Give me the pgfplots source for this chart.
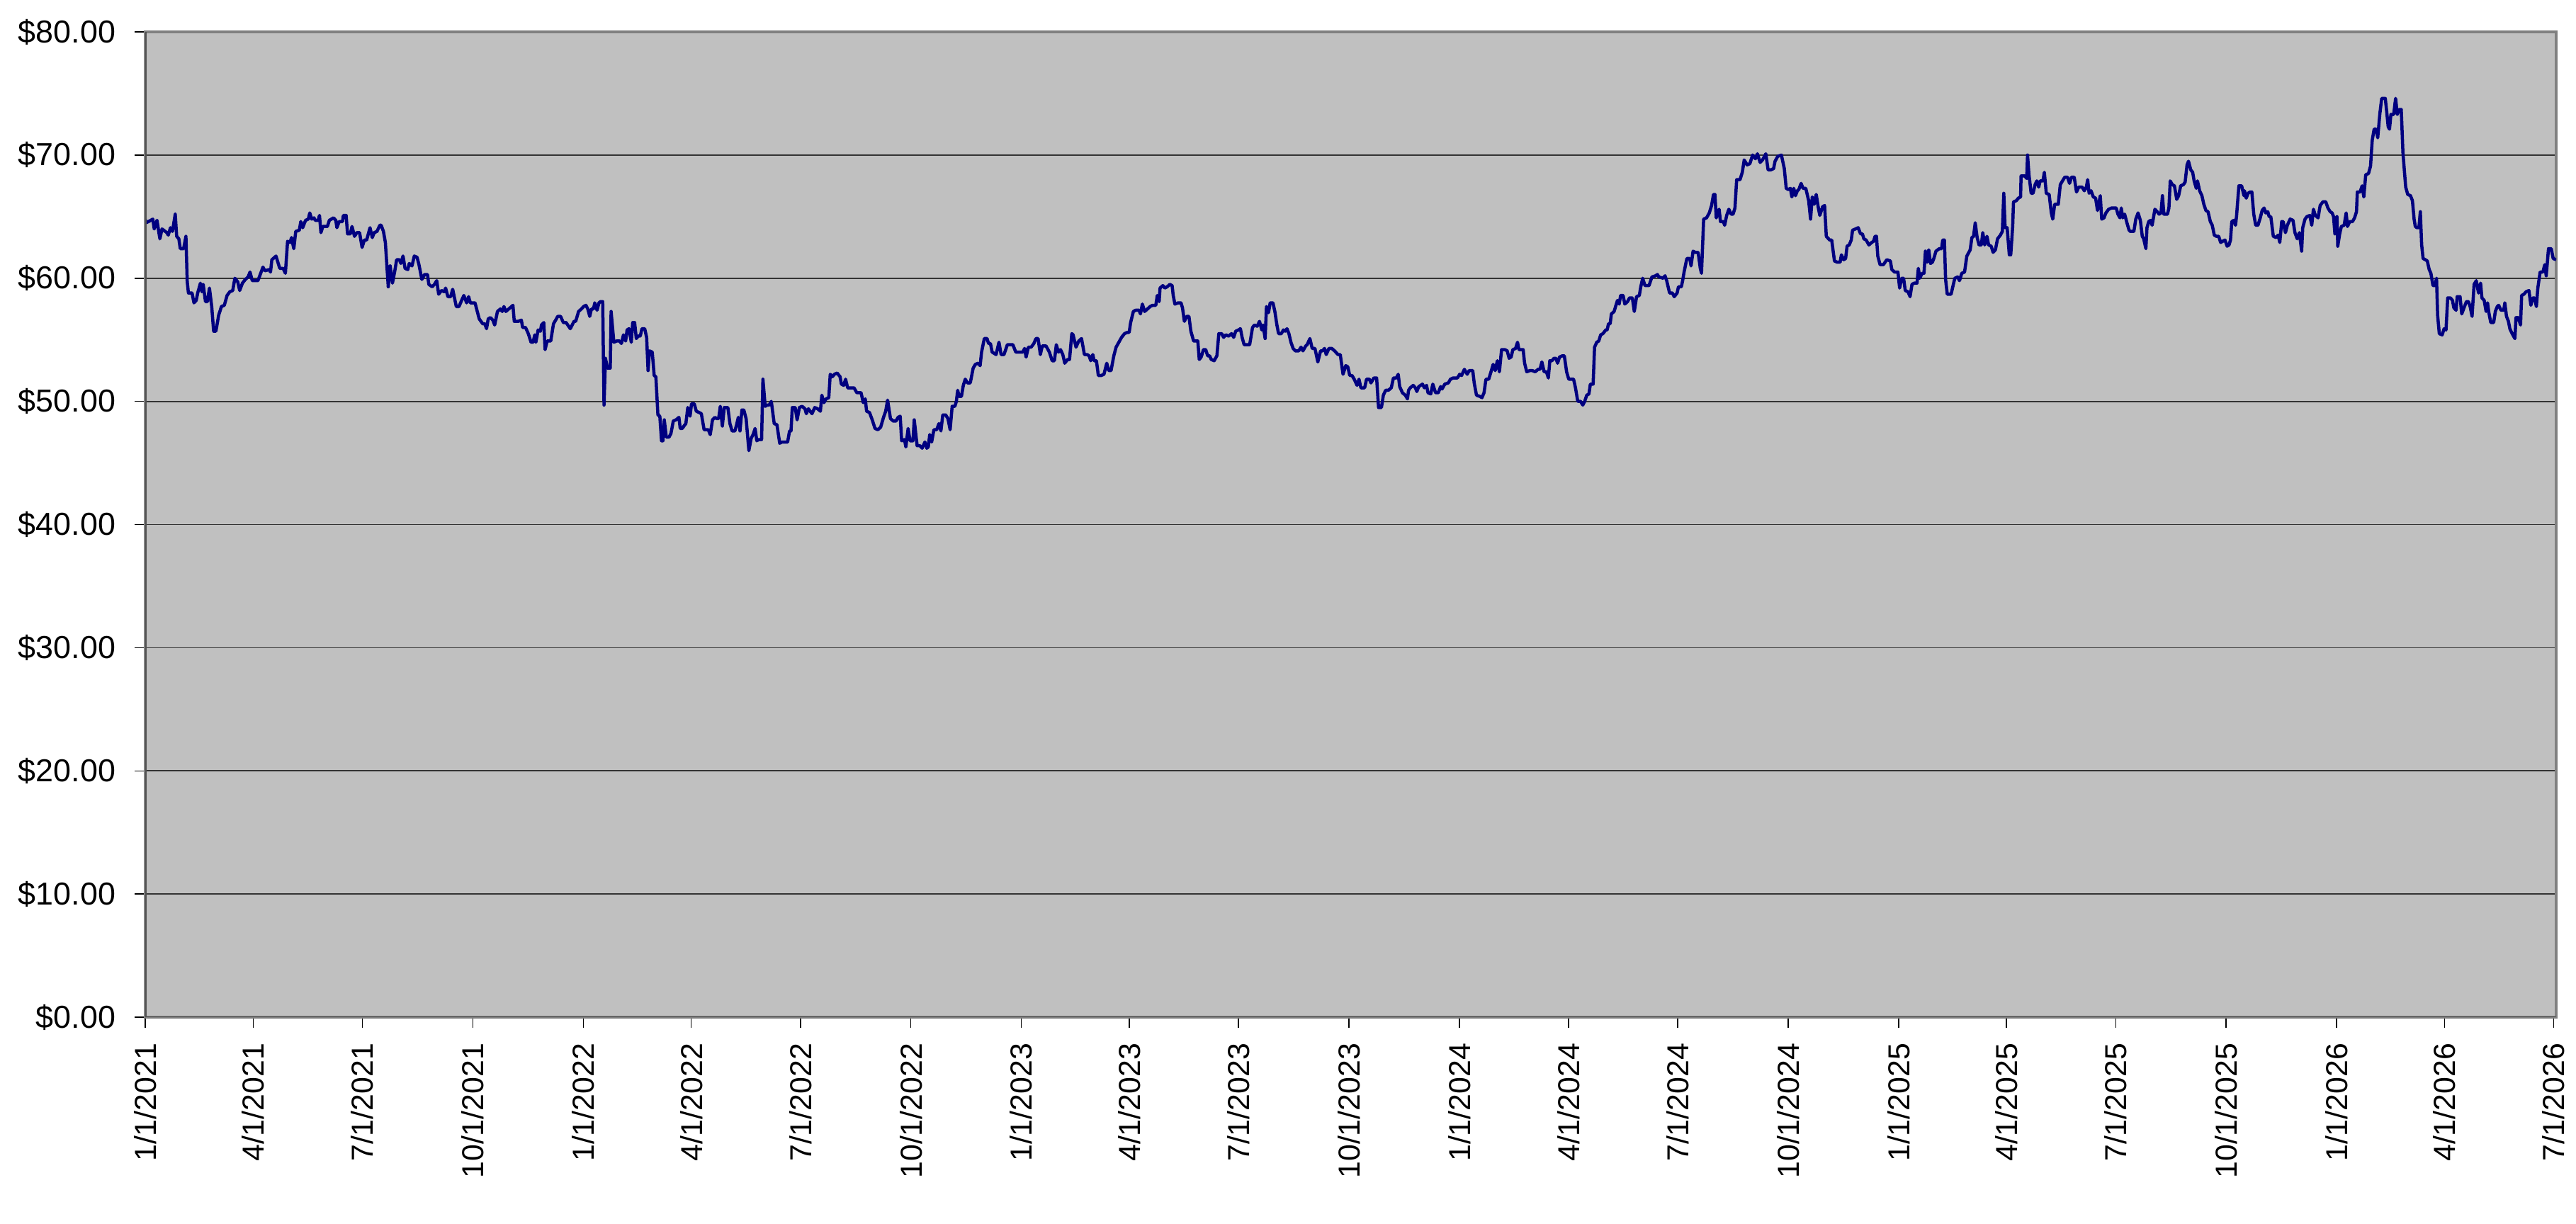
\documentclass[border=0pt]{standalone}
\usepackage{fontspec}
\setmainfont{Liberation Sans}
\usepackage{pgfplots}
\pgfplotsset{compat=1.18}
\definecolor{plotbg}{RGB}{192,192,192}
\definecolor{navyline}{RGB}{0,0,128}
\definecolor{framegray}{RGB}{128,128,128}
\definecolor{axisdark}{RGB}{80,80,80}
\begin{document}
\begin{tikzpicture}
\useasboundingbox (0,0) rectangle (727.2bp,345.6bp);
\begin{axis}[
  at={(41bp,58.4bp)}, anchor=south west,
  scale only axis, width=680.6bp, height=278.2bp,
  xmin=0, xmax=2009, ymin=0, ymax=80,
  axis background/.style={fill=plotbg},
  axis line style={draw=framegray, line width=0.7bp},
  ymajorgrids, grid style={draw=black!80, line width=0.35bp},
  ytick={0,10,20,30,40,50,60,70,80},
  yticklabels={\$0.00,\$10.00,\$20.00,\$30.00,\$40.00,\$50.00,\$60.00,\$70.00,\$80.00},
  xtick={0,90,181,273,365,455,546,638,730,820,911,1003,1095,1186,1277,1369,1461,1551,1642,1734,1826,1916,2007},
  xticklabels={1/1/2021,4/1/2021,7/1/2021,10/1/2021,1/1/2022,4/1/2022,7/1/2022,10/1/2022,1/1/2023,4/1/2023,7/1/2023,10/1/2023,1/1/2024,4/1/2024,7/1/2024,10/1/2024,1/1/2025,4/1/2025,7/1/2025,10/1/2025,1/1/2026,4/1/2026,7/1/2026},
  tick align=outside, xtick pos=left, ytick pos=left,
  major tick length=3bp,
  tick style={draw=black, line width=0.3bp},
  xticklabel style={rotate=90, anchor=east, font=\fontsize{8.6}{10}\selectfont, inner sep=0pt},
  yticklabel style={anchor=east, font=\fontsize{9}{11}\selectfont, inner sep=0pt},
  xticklabel shift=4.2bp, yticklabel shift=5.2bp,
]
\addplot[navyline, line width=0.9bp, line join=round, mark=none] table {
x y
0 64.8
0.5 64.5
2.8 64.6
6.3 64.8
7.5 64.0
9.8 64.7
12.2 63.2
14 64.0
18 63.7
19.2 63.5
21 64.1
22.7 63.8
25 65.2
26.2 63.4
28 63.2
29.2 62.4
32 62.4
33.9 63.4
35 59.7
36 58.8
39 58.8
40.6 58.0
42.5 58.2
43.7 58.8
46 59.6
47.2 58.9
48.3 59.5
50.2 58.1
51.8 58.1
53.5 59.2
55.4 57.7
57 55.7
58.9 55.7
61.2 57.0
63.5 57.7
65.9 57.8
68.2 58.6
70.5 58.9
72.9 59.0
74.7 60.0
77.1 59.7
78.7 59.0
81 59.6
83.4 59.9
85.7 60.1
87.3 60.5
89.2 59.8
93.9 59.8
96.2 60.4
98.1 60.9
99.7 60.6
103.2 60.7
104.4 60.5
105.5 61.5
109 61.8
110.2 61.4
112.1 60.8
114.9 60.8
116.8 60.4
118.6 63.0
120.7 62.9
121.9 63.3
123.8 62.4
125.4 63.8
128.4 63.9
129.6 64.6
131.2 64.1
133.6 64.7
135.9 64.8
137.1 65.3
138.7 64.8
140.6 64.9
141.7 64.7
144.1 64.7
145.2 65.1
146.4 63.7
148 64.2
151.8 64.2
153.4 64.7
156.9 64.9
158.8 64.7
159.7 64.1
161.6 64.6
164.4 64.6
165.1 65.1
167.4 65.1
168.6 63.6
170.9 63.6
172.3 64.2
174.4 63.4
176.3 63.7
178.6 63.7
180.7 62.5
182.6 63.1
184.5 63.1
187.3 64.1
189.2 63.3
190.8 63.7
193.1 63.8
195.5 64.3
196.6 64.3
198.5 63.8
200.1 62.9
202.5 59.3
204.1 61.0
206 59.6
207.8 60.5
209.5 61.5
211.8 61.5
213 61.2
214.8 61.8
216.5 60.8
218.8 60.7
220 61.2
222.3 61.0
224.2 61.8
226.5 61.7
228.1 61.1
230.5 59.9
232.8 60.3
235.2 60.3
236.3 59.5
239.1 59.3
241 59.5
242.9 59.8
244.5 58.7
246.8 59.0
249.2 58.9
250.3 59.2
252.2 58.5
254.5 58.5
256.2 59.1
259.2 57.7
261.5 57.7
263.2 58.1
265.5 58.6
267.8 58.0
269.5 58.5
270.9 58.0
272.5 58.0
274.8 58.0
278.3 56.7
281.2 56.3
283 56.3
284.4 55.9
285.8 56.7
287.7 56.8
289.6 56.6
291.2 56.2
293.5 57.3
295.9 57.5
297.5 57.3
298.9 57.7
300.5 57.3
302.9 57.5
306.4 57.8
307.5 56.5
311 56.5
313.4 56.6
314.5 56.0
316.9 56.0
319.2 55.5
321.5 54.8
323.2 54.8
324.6 55.4
325.5 54.8
327.4 55.8
329.3 55.7
330.2 56.2
332.1 56.4
333.2 54.2
334.9 54.9
337.9 54.9
340.2 56.3
342.6 56.7
343.7 56.9
346.1 56.9
348.4 56.4
350.7 56.4
354.2 55.9
357.3 56.5
358.7 56.5
361.1 57.3
363.4 57.5
365.3 57.7
367.2 57.8
368.8 57.5
370.4 56.9
371.8 57.5
373.5 57.5
374.6 58.0
376.5 57.4
378.1 58.0
379.3 58.1
381.2 58.1
382.3 49.7
383.5 53.5
385.1 52.7
387.5 52.7
388.2 57.3
390.5 54.8
392.8 54.9
395.2 54.9
396.8 54.7
398.5 55.4
400.3 54.9
401.5 55.8
403.1 55.9
405 54.8
406.2 56.4
407.8 56.4
409.2 55.1
410.8 55.3
412.5 55.3
413.9 55.9
416.2 55.9
417.8 55.2
419 52.5
420.2 54.1
422.5 54.0
424.1 52.1
425.5 52.0
427.2 48.9
428.8 48.8
430.2 46.8
431.4 46.8
432.5 48.5
434.2 47.1
436.5 47.1
438.1 47.4
440 48.4
442.3 48.5
444.7 48.7
445.8 47.8
447.5 47.8
448.9 48.0
450.5 48.2
452.1 49.5
454 48.8
455.2 49.8
457.5 49.8
459.2 49.2
461.5 49.1
463.4 49.0
465.7 47.7
467.6 47.7
469.2 47.7
470.8 47.3
472.7 48.5
474.6 48.7
476.2 48.6
477.8 48.6
479.2 49.6
480.9 48.0
482.5 49.5
485.5 49.5
487.2 48.2
489 47.6
491.4 47.6
492.5 48.0
494.2 48.7
495.6 47.6
497.2 49.3
498.8 49.3
500.7 48.6
503 46.0
504.9 47.0
506.5 47.3
508.2 47.8
509.6 46.8
511.2 46.9
513.6 46.9
514.7 51.8
516.6 49.6
518.2 49.7
519.9 49.7
521.7 50.0
524.1 48.2
526.4 48.1
528.7 46.6
530.6 46.7
532.9 46.7
535.3 46.7
536.9 47.6
538.1 47.6
539.2 49.5
541.6 49.5
543.2 48.5
545.1 49.5
547.4 49.6
549.7 49.4
550.9 49.0
552.6 49.4
555.6 49.0
557.9 49.5
560.3 49.4
562.6 49.2
563.8 50.5
565.6 49.9
567.3 50.2
569.6 50.3
570.8 52.2
572.6 52.0
574.3 52.2
576.6 52.3
579 52.0
580.1 51.4
582 51.3
583.6 51.8
585.3 51.1
587.1 51.1
590.6 51.1
593 50.7
594.6 50.7
596.5 50.7
598.3 49.9
600 50.2
601.1 49.2
603.5 49.1
605.8 48.5
608.1 47.8
610.5 47.7
612.8 47.9
615.2 48.7
617 49.2
618.6 50.1
621 48.6
623.3 48.4
625.6 48.4
627.3 48.7
629.1 48.8
630.3 46.8
632.7 46.9
633.8 46.3
635.7 47.8
637.3 46.8
639.7 46.8
640.8 48.5
643.2 46.4
645.5 46.4
647.4 46.2
649.7 46.7
651.3 46.2
652.5 46.3
653.7 47.3
655.3 46.7
657.2 47.7
659.5 47.7
661.4 48.2
663 47.6
664.6 48.9
667 48.9
668.9 48.6
670.7 47.7
672.4 49.6
674.7 49.6
675.9 50.0
677 50.9
678.2 50.4
680.1 50.4
681.7 51.3
683.3 51.8
685.2 51.5
687.5 51.5
689.9 52.7
691.7 53.0
694.1 53.1
695.7 52.9
696.9 54.0
699.2 55.1
701.5 55.1
702.7 54.7
704.3 54.7
705.7 54.0
709 53.8
711.4 54.8
713.2 53.8
715.6 53.8
718.4 54.6
720.7 54.6
723 54.6
725.4 54.0
727.7 54.0
731.2 54.0
732.8 54.3
734 53.6
735.9 54.4
738.2 54.4
740.5 54.7
742.2 55.1
744 55.1
745.9 53.8
747.5 54.5
750.6 54.5
753.4 54.0
755.7 53.3
757.6 53.3
759.2 54.6
760.9 54.0
762.7 54.2
764.6 53.8
766.2 53.1
768.6 53.4
770.2 53.4
772.1 55.5
773.2 55.4
775.6 54.4
777.9 54.9
780.2 55.1
782.6 53.8
784.9 53.8
786.5 53.7
787.9 53.3
789.6 53.8
790.7 53.3
792.6 53.3
794.2 52.1
796.6 52.1
798.9 52.2
801.2 53.1
802.9 52.5
804.8 52.5
807.1 53.7
809 54.4
811.3 54.8
813.6 55.2
816 55.5
818.3 55.6
819.9 55.6
821.1 56.4
823.4 57.3
825.3 57.4
828.1 57.4
829.3 57.1
830.9 57.9
832.8 57.3
835.1 57.5
837.4 57.7
839.3 57.8
842.1 57.8
843.3 58.6
844.9 58.1
845.6 59.2
848 59.4
849.6 59.2
851.5 59.3
853.8 59.5
855.7 59.4
856.6 58.6
858 57.9
860.8 58.0
863.1 58.0
864.3 57.6
865.9 56.5
867.8 56.9
869.7 56.9
871.3 55.7
873.6 54.9
876 54.9
877.1 54.9
878.3 53.4
879.9 53.6
881.8 54.2
883.7 54.2
885.3 53.7
886.9 53.7
888.3 53.4
890.7 53.3
893 53.7
894.6 55.5
897 55.5
898.6 55.2
900.5 55.4
902.8 55.3
905.2 55.5
907 55.2
908.7 55.7
911 55.8
912.6 55.9
914 55.2
915.7 54.6
918 54.6
920.3 54.6
922.7 56.0
924.3 56.2
926.6 56.1
928.5 56.5
930.4 55.8
931.5 56.2
933.2 55.1
934.3 57.7
936 57.2
937.4 58.0
939.7 58.0
941.3 57.3
943 56.2
944.4 55.5
946.7 55.5
948.4 55.8
950 55.7
951.4 55.9
953 55.5
954.7 54.8
956.5 54.3
958.4 54.1
961.2 54.1
963.1 54.4
964.7 54.1
967 54.5
968.2 54.6
970.5 55.1
972.4 54.3
974.7 54.3
977.1 53.2
979.4 54.1
981 54.1
982.7 54.3
984.1 53.8
986.4 54.3
988.7 54.3
991.1 54.1
993.9 53.8
995.8 53.8
998.1 52.2
1000.4 52.9
1002.1 52.8
1003.7 52.1
1005.6 52.1
1007.4 51.8
1009.8 51.3
1011.4 51.8
1013 51.1
1016.1 51.1
1017.7 51.8
1020 51.8
1021.4 51.5
1023.8 51.9
1026.1 51.9
1027.7 49.5
1030.1 49.5
1031.7 50.5
1033.6 50.9
1035.9 50.9
1038.3 51.1
1040.1 51.9
1042.5 51.9
1044.1 52.2
1045.3 51.2
1047.6 50.7
1050 50.5
1051.8 50.2
1052.7 50.9
1054.1 51.1
1056.6 51.3
1058.4 51.1
1059.6 50.8
1061.2 51.2
1064.3 51.4
1065.9 51.1
1067.7 51.3
1068.9 50.7
1071.2 50.6
1072.9 51.4
1075.2 50.7
1077.5 50.7
1079.4 51.2
1080.6 51.0
1082.9 51.4
1085.9 51.5
1087.6 51.8
1089.9 51.9
1093.4 51.9
1095.3 52.2
1096.9 52.1
1099.2 52.6
1101.6 52.2
1103.2 52.5
1106.2 52.5
1107.4 51.5
1109.3 50.5
1112.1 50.4
1113.9 50.3
1115.6 50.7
1117.2 51.8
1119.5 51.8
1121.4 52.4
1123.2 53.0
1124.9 52.5
1126.7 53.3
1128.4 52.4
1130.2 54.2
1133 54.2
1134.9 54.1
1136.5 53.5
1138.2 53.6
1139.6 54.2
1141.9 54.3
1143.5 54.8
1144.7 54.2
1148.2 54.2
1149.4 53.1
1151.2 52.4
1153.6 52.5
1155.9 52.5
1158.2 52.4
1160.6 52.6
1162.2 52.6
1163.8 53.2
1165.7 52.4
1167.6 52.4
1169.2 51.9
1170.4 53.3
1172.2 53.3
1173.9 53.5
1175.5 53.5
1176.9 53.1
1178.5 53.6
1180.9 53.7
1182.5 53.7
1184.4 52.4
1186.2 51.8
1188.6 51.8
1190.2 51.8
1191.8 51.1
1193.7 50.0
1196 50.0
1197.9 49.7
1199.5 50.0
1201.2 50.5
1203 50.6
1204.2 51.4
1206.5 51.4
1207.7 54.4
1209.5 54.8
1211.2 54.9
1212.8 55.4
1214.7 55.5
1217 55.8
1218.2 55.8
1219.3 56.3
1220.7 56.3
1221.7 57.1
1224 57.3
1225.2 57.7
1226.8 58.2
1228.2 57.9
1229.4 58.6
1231.5 58.6
1232.9 57.9
1235.2 58.1
1236.8 58.4
1239.2 58.4
1240.8 57.3
1242.7 58.5
1245 58.6
1246.2 59.3
1247.8 60.0
1249.7 59.4
1253.1 59.4
1255.5 60.1
1258.5 60.2
1260.1 60.3
1261.3 60.1
1264.8 60.0
1266.4 60.2
1267.8 59.8
1270.2 58.8
1272.5 58.8
1274.1 58.5
1276.5 58.8
1277.6 59.3
1280 59.3
1281.1 59.8
1282.3 60.5
1284.6 61.6
1287 61.6
1288.1 61.0
1289.8 62.2
1291.6 62.1
1294 62.1
1295.8 60.8
1296.8 60.4
1298.6 64.8
1301 64.9
1303.3 65.3
1305.2 65.9
1306.8 66.8
1308 66.8
1309.1 64.9
1311.5 65.6
1312.6 64.6
1315 64.6
1316.1 64.3
1317.8 65.1
1319.6 65.6
1321.5 65.2
1323.1 65.2
1324.7 65.7
1326.1 68.0
1328.9 68.0
1330.8 68.6
1332.4 69.6
1334.8 69.2
1337.1 69.3
1339.4 70.0
1341.8 69.7
1343.4 70.1
1345.7 69.4
1347.6 69.6
1350.4 70.1
1352.3 68.8
1354.6 68.8
1356.9 68.9
1358.1 69.5
1360.4 69.9
1363.4 70.0
1365.8 68.9
1367.4 67.3
1369.1 67.2
1370.9 67.3
1372.1 66.6
1373.7 67.3
1375.1 66.7
1376.7 67.1
1377.9 67.2
1379.8 67.7
1381.4 67.3
1383.7 67.3
1386.1 66.3
1387.7 64.8
1389.1 66.6
1390.7 66.0
1392.4 66.8
1394.2 65.7
1395.4 65.1
1397.7 65.8
1399.4 65.9
1400.8 63.4
1403.6 63.1
1405.3 63.1
1407.6 61.4
1409.9 61.3
1412.3 61.3
1413.4 61.9
1415.3 61.5
1416.9 61.6
1418.1 62.6
1419.9 62.7
1421.6 63.1
1422.7 63.9
1425.1 64.0
1427.4 64.1
1429.3 63.6
1430.9 63.6
1432.1 63.2
1434 63.1
1436.3 62.7
1438.6 62.9
1440.2 63.0
1441.4 63.4
1442.6 63.4
1443.7 61.8
1445.6 61.1
1448.4 61.1
1451.2 61.5
1454.2 61.4
1455.4 60.7
1457.7 60.5
1460.5 60.5
1461.9 59.2
1463.6 60.0
1465.2 60.0
1466.6 59.0
1468.9 58.9
1470.6 58.5
1472.2 59.5
1474.1 59.6
1476.4 59.6
1477.5 60.8
1478.7 60.0
1480.6 60.4
1482.2 60.4
1483.4 62.2
1484.8 61.3
1486.2 62.3
1487.6 61.2
1489.2 61.3
1490.4 61.6
1492.2 62.2
1495 62.4
1496.9 62.4
1497.8 63.1
1499.2 63.1
1500.2 59.9
1501.6 58.7
1504.8 58.7
1506.2 59.3
1507.9 60.0
1510.2 60.1
1511.8 59.8
1513.7 60.4
1516 60.5
1517.9 61.8
1520.7 62.3
1522.1 63.3
1523.5 63.4
1524.9 64.5
1526.5 63.3
1528.1 62.7
1530 62.7
1531.2 63.7
1532.8 62.7
1534.7 63.4
1536.1 62.7
1538.2 62.6
1539.8 62.1
1541.7 62.3
1543.5 63.2
1545.9 63.5
1547.5 63.8
1548.7 66.9
1549.8 64.1
1551.5 64.1
1553.3 61.9
1554.5 61.9
1556.1 64.2
1556.8 66.2
1559.2 66.3
1560.8 66.5
1562.7 66.6
1563.1 68.3
1566.2 68.3
1567.8 68.1
1568.5 70.0
1569.7 68.4
1571.5 66.9
1573.1 66.9
1574.8 67.6
1576.2 67.9
1577.8 67.4
1579 67.9
1581.3 67.9
1582.5 68.6
1584.1 66.9
1586.5 66.8
1588.3 65.3
1589.5 64.8
1591.1 66.0
1594.1 66.0
1595.8 67.6
1597.6 67.9
1599.5 68.2
1601.8 68.2
1603.5 67.7
1605.1 68.2
1607.4 68.2
1609.3 67.0
1611.2 67.4
1614 67.4
1615.8 67.1
1617.5 67.4
1618.6 68.0
1619.8 66.9
1621.4 67.1
1623.3 66.6
1625.2 66.5
1626.8 65.5
1629.1 66.7
1630.3 64.8
1632.2 64.9
1633.8 65.3
1636.1 65.6
1638.5 65.7
1640.8 65.7
1642.4 65.7
1643.8 65.2
1645.5 64.9
1646.6 65.7
1647.8 64.9
1649.4 65.2
1651.3 64.5
1653.1 63.9
1654.1 63.8
1657.1 63.8
1658.7 64.8
1660.6 65.3
1662.5 64.7
1664.1 63.4
1665.3 63.2
1667.1 62.4
1668 64.1
1669.5 64.6
1671.1 64.7
1672.3 64.3
1673.4 64.9
1674.6 65.6
1676.5 65.4
1678.1 65.2
1679.7 65.3
1680.9 66.7
1682.1 65.2
1685.1 65.2
1686.3 65.7
1687.4 67.9
1689.1 67.6
1690.9 67.5
1692.8 66.4
1694.4 66.7
1696.1 67.5
1698.4 67.6
1699.8 67.8
1701.4 69.2
1702.6 69.5
1704.5 68.8
1706.1 68.6
1707.3 67.9
1709.1 67.3
1710.1 67.9
1711.9 67.1
1713.8 66.7
1715.4 66.0
1717.1 65.5
1718.9 65.4
1720.8 64.6
1722.4 64.3
1724.1 63.5
1725.9 63.4
1727.8 63.4
1729.4 62.9
1731.1 63.0
1733 63.1
1734.8 62.6
1736.4 62.7
1737.6 63.1
1738.7 64.6
1740.4 64.7
1741.8 64.3
1742.7 65.1
1744.6 67.5
1746.9 67.5
1748.8 66.7
1749.3 67.1
1750.7 66.5
1752.3 66.9
1754 67.0
1755.4 67.0
1757 65.2
1758.6 64.3
1760.5 64.3
1762.4 64.9
1764 65.5
1765.6 65.7
1767 65.3
1768.7 65.4
1769.8 65.0
1771.2 65.0
1773.3 63.4
1775.7 63.3
1777.3 63.5
1778.7 62.9
1780.3 64.6
1781.5 64.6
1783.4 63.7
1785 64.3
1787.3 64.8
1789.7 64.7
1791.3 63.7
1793.2 63.2
1795 63.7
1796.9 62.2
1797.8 64.1
1799.7 64.8
1801.3 65.0
1803.7 65.1
1805.3 64.3
1806.7 65.6
1808.3 65.1
1810.6 64.9
1812.3 65.9
1814.6 66.2
1817 66.2
1818.8 65.7
1820.7 65.4
1822.3 65.3
1823.5 65.0
1824.6 63.6
1826.3 65.0
1827 62.6
1828.6 63.6
1830 64.2
1832.3 64.3
1834 65.3
1835.1 64.2
1837 64.6
1839.3 64.6
1841 64.9
1842.6 65.4
1843.3 67.0
1845.6 67.0
1847.3 67.5
1848.7 66.6
1850.3 68.4
1852.6 68.5
1854.3 69.1
1855.7 71.2
1857.3 72.1
1859 72.1
1860.3 71.4
1862 73.3
1863.6 74.6
1866.6 74.6
1867.8 73.5
1869 72.3
1870.1 72.1
1871.3 73.3
1873.6 73.3
1875.2 74.6
1876.6 73.3
1878.3 73.7
1879.9 73.7
1881.3 70.2
1882.2 69.1
1883.6 67.4
1885.3 66.8
1887.6 66.7
1889.2 66.3
1890.6 64.8
1891.6 64.2
1893 64.1
1894.6 64.1
1895.8 65.4
1896.9 62.7
1898.1 61.6
1900 61.5
1901.6 61.4
1903.2 60.7
1904.6 60.4
1906.3 59.4
1907.9 59.4
1909.3 60.0
1910.2 57.0
1911.6 55.5
1914 55.4
1915.6 55.9
1917.2 55.8
1918.6 58.4
1920.9 58.4
1922.6 58.2
1923.7 57.6
1925.6 57.4
1926.5 58.5
1928.9 58.5
1930.3 57.1
1932.6 57.7
1934.2 58.1
1935.9 58.1
1937.3 57.7
1938.9 56.9
1940.6 59.5
1942.4 59.8
1944.3 58.8
1946 59.6
1947.1 58.4
1949 58.2
1950.6 57.3
1951.8 58.0
1952.9 57.2
1954.5 56.4
1956.9 56.4
1958.3 57.3
1959.9 57.7
1961.1 57.8
1963 57.4
1965.3 57.4
1966.2 58.0
1967.6 56.9
1969.2 56.5
1970.4 55.9
1972.3 55.5
1974.6 55.1
1975.5 56.8
1977.4 56.8
1979.3 56.2
1980.2 58.6
1982.1 58.7
1983.9 58.9
1986.3 59.0
1987.9 57.8
1989.5 58.4
1990.9 58.4
1992.5 57.7
1993.7 59.2
1995.6 60.5
1997.9 60.5
1999.5 61.1
2000.7 60.2
2002.6 62.4
2004.9 62.4
2006.5 61.6
2009 61.5
};
\draw[axisdark, line width=0.6bp] (rel axis cs:0,1) -- (rel axis cs:0,0) -- (rel axis cs:1,0);
\end{axis}
\end{tikzpicture}
\end{document}
